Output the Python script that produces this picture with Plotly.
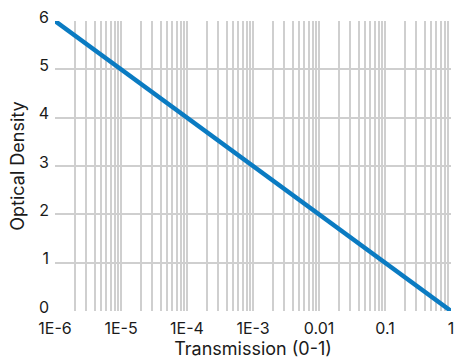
import plotly.graph_objects as go

transmission = [1e-6, 1e-5, 1e-4, 1e-3, 0.01, 0.1, 1]
optical_density = [6, 5, 4, 3, 2, 1, 0]
x_tick_vals = [1e-6, 1e-5, 1e-4, 1e-3, 0.01, 0.1, 1]
x_tick_text = ["1E-6", "1E-5", "1E-4", "1E-3", "0.01", "0.1", "1"]

fig = go.Figure()
fig.add_trace(go.Scatter(x=transmission, y=optical_density, mode="lines",
                         line=dict(color="#0a7bc2", width=4.5), showlegend=False,
                         cliponaxis=False))

grid = "#cfcfcf"
fig.update_layout(
    width=454, height=359,
    margin=dict(l=55, r=3, t=21, b=48, autoexpand=False),
    paper_bgcolor="white", plot_bgcolor="white",
    font=dict(family="Inter, sans-serif", size=16, color="#1a1a1a"),
    xaxis=dict(type="log", range=[-6, 0], tickvals=x_tick_vals, ticktext=x_tick_text,
               showgrid=True, gridcolor=grid, gridwidth=1.5,
               minor=dict(dtick="D1", showgrid=True, gridcolor=grid, gridwidth=1.5),
               zeroline=False, showline=False, ticks="", ticklabelstandoff=6,
               ticklabeloverflow="allow", automargin=False,
               title=dict(text="Transmission (0-1)", font=dict(size=18), standoff=4)),
    yaxis=dict(range=[0, 6], dtick=1, showgrid=True, gridcolor=grid, gridwidth=1.5,
               zeroline=False, showline=False, ticks="", automargin=False,
               ticklabelstandoff=5, ticklabelshift=-4,
               title=dict(text="Optical Density", font=dict(size=18), standoff=9)),
)
fig.write_html("out.html", config={"displayModeBar": False},
               post_script="document.body.style.margin='0';document.body.style.padding='0';")
